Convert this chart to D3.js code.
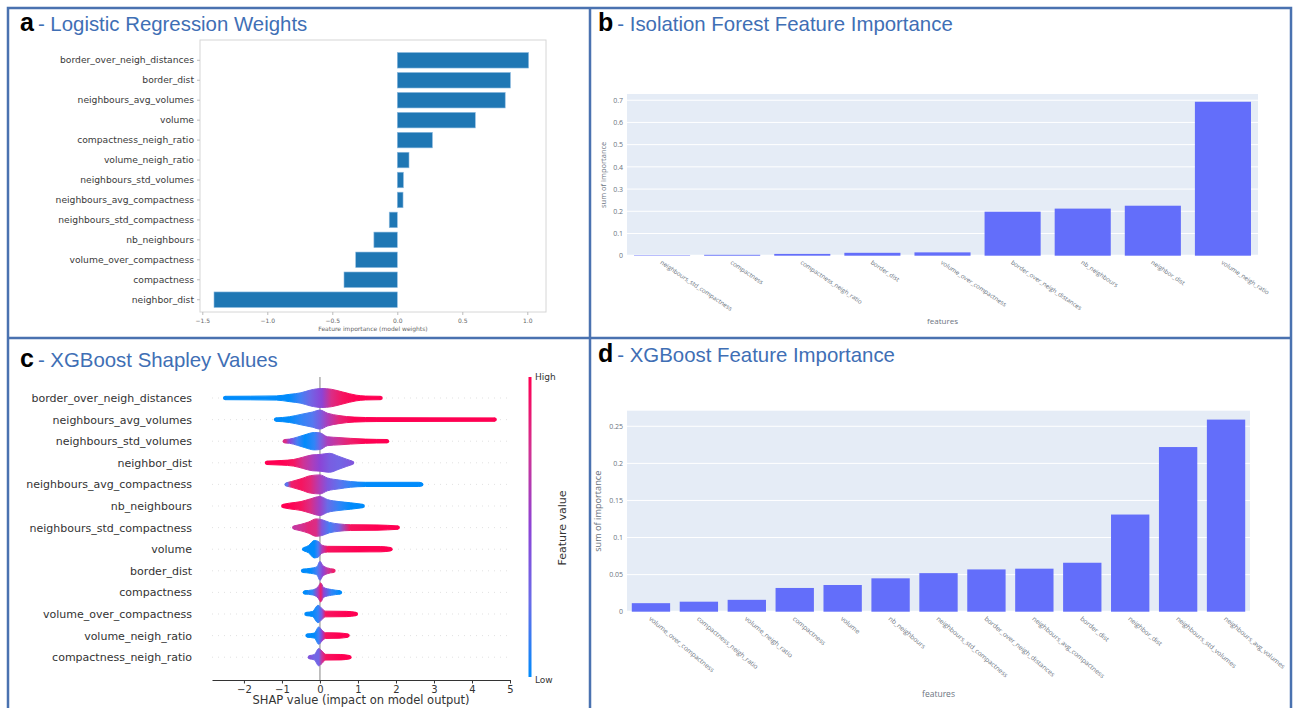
<!DOCTYPE html>
<html>
<head>
<meta charset="utf-8">
<script src="https://cdn.jsdelivr.net/npm/d3@7"></script>
<style>
  body { margin: 0; background: #fff; }
  svg { display: block; }
</style>
</head>
<body>
<div id="chart"></div>
<script>
// ---- data ----
const LR_FEATURES = ['border_over_neigh_distances', 'border_dist', 'neighbours_avg_volumes', 'volume',
  'compactness_neigh_ratio', 'volume_neigh_ratio', 'neighbours_std_volumes', 'neighbours_avg_compactness',
  'neighbours_std_compactness', 'nb_neighbours', 'volume_over_compactness', 'compactness', 'neighbor_dist'];
const LR_WEIGHTS = [1.01, 0.87, 0.83, 0.60, 0.27, 0.09, 0.047, 0.044, -0.062, -0.18, -0.32, -0.41, -1.41];
const LR_TICKS = [-1.5, -1.0, -0.5, 0.0, 0.5, 1.0];

const IF_FEATURES = ['neighbours_std_compactness', 'compactness', 'compactness_neigh_ratio', 'border_dist',
  'volume_over_compactness', 'border_over_neigh_distances', 'nb_neighbours', 'neighbor_dist', 'volume_neigh_ratio'];
const IF_IMPORTANCE = [0.002, 0.004, 0.008, 0.013, 0.015, 0.198, 0.212, 0.225, 0.693];
const IF_TICKS = [0, 0.1, 0.2, 0.3, 0.4, 0.5, 0.6, 0.7];

const XGB_FEATURES = ['volume_over_compactness', 'compactness_neigh_ratio', 'volume_neigh_ratio', 'compactness',
  'volume', 'nb_neighbours', 'neighbours_std_compactness', 'border_over_neigh_distances',
  'neighbours_avg_compactness', 'border_dist', 'neighbor_dist', 'neighbours_std_volumes', 'neighbours_avg_volumes'];
const XGB_IMPORTANCE = [0.0115, 0.0135, 0.016, 0.032, 0.036, 0.045, 0.052, 0.057, 0.058, 0.066, 0.131, 0.222, 0.259];
const XGB_TICKS = [0, 0.05, 0.1, 0.15, 0.2, 0.25];

const SHAP_FEATURES = ['border_over_neigh_distances', 'neighbours_avg_volumes', 'neighbours_std_volumes',
  'neighbor_dist', 'neighbours_avg_compactness', 'nb_neighbours', 'neighbours_std_compactness', 'volume',
  'border_dist', 'compactness', 'volume_over_compactness', 'volume_neigh_ratio', 'compactness_neigh_ratio'];
// each profile point: [shap value, relative point density, feature value (0 low .. 1 high)]
const SHAP_PROFILES = [
  [[-2.5, 0, 0], [-1.15, 0.05, 0], [-0.8, 0.25, 0], [-0.5, 0.45, 0.1], [-0.25, 0.8, 0.3], [0.05, 1, 0.5],
   [0.3, 0.9, 0.8], [0.6, 0.55, 0.95], [0.95, 0.15, 1], [1.2, 0.03, 1], [1.6, 0, 1]],
  [[-1.16, 0, 0], [-0.8, 0.15, 0], [-0.5, 0.45, 0.05], [-0.2, 0.75, 0.15], [0, 1, 0.35], [0.2, 0.6, 0.6],
   [0.5, 0.3, 0.85], [0.9, 0.1, 1], [1.5, 0.03, 1], [4.6, 0, 1]],
  [[-0.93, 0, 0.8], [-0.8, 0.05, 0.5], [-0.6, 0.3, 0.1], [-0.4, 0.6, 0], [-0.15, 0.9, 0.05], [0, 0.85, 0.3],
   [0.2, 0.35, 0.6], [0.5, 0.25, 0.75], [0.8, 0.15, 0.9], [1.2, 0.05, 1], [1.77, 0, 1]],
  [[-1.4, 0, 1], [-1.0, 0.08, 1], [-0.7, 0.2, 0.95], [-0.45, 0.5, 0.75], [-0.2, 0.8, 0.6], [0, 0.85, 0.5],
   [0.25, 1, 0.35], [0.5, 0.6, 0.3], [0.7, 0.25, 0.35], [0.85, 0, 0.4]],
  [[-0.88, 0, 0.2], [-0.75, 0.15, 0.9], [-0.5, 0.5, 0.95], [-0.25, 0.9, 0.85], [0, 1, 0.6], [0.2, 0.6, 0.4],
   [0.5, 0.35, 0.2], [0.8, 0.15, 0.05], [1.2, 0.05, 0], [2.0, 0.05, 0], [2.6, 0.05, 0], [2.67, 0, 0]],
  [[-0.97, 0, 1], [-0.8, 0.15, 1], [-0.5, 0.35, 0.95], [-0.25, 0.7, 0.8], [0, 1, 0.55], [0.2, 0.6, 0.25],
   [0.5, 0.35, 0.05], [0.8, 0.2, 0], [1.13, 0, 0]],
  [[-0.68, 0, 0.7], [-0.5, 0.2, 0.75], [-0.3, 0.5, 0.85], [-0.1, 0.9, 0.8], [0.05, 0.8, 0.4], [0.25, 0.45, 0.1],
   [0.5, 0.25, 0.3], [0.8, 0.15, 0.95], [1.5, 0.12, 1], [2.05, 0, 1]],
  [[-0.42, 0, 0], [-0.3, 0.25, 0], [-0.15, 0.9, 0], [-0.05, 0.8, 0.1], [0.05, 0.3, 0.6], [0.2, 0.15, 0.95],
   [1.0, 0.13, 1], [1.6, 0.12, 1], [1.86, 0, 1]],
  [[-0.45, 0, 0], [-0.25, 0.1, 0], [-0.08, 0.3, 0.1], [0, 1, 0.3], [0.07, 0.5, 0.5], [0.2, 0.15, 0.7], [0.36, 0, 0.9]],
  [[-0.4, 0, 0], [-0.2, 0.1, 0.05], [-0.05, 0.5, 0.6], [0.02, 1, 0.9], [0.1, 0.4, 0.5], [0.3, 0.15, 0.05], [0.53, 0, 0]],
  [[-0.36, 0, 0], [-0.2, 0.1, 0], [-0.05, 0.9, 0.05], [0.05, 0.5, 0.4], [0.15, 0.15, 0.95], [0.7, 0.12, 1], [0.95, 0, 1]],
  [[-0.33, 0, 0], [-0.15, 0.1, 0], [-0.03, 0.9, 0.1], [0.05, 0.5, 0.5], [0.15, 0.15, 0.95], [0.5, 0.12, 1], [0.73, 0, 1]],
  [[-0.27, 0, 0.4], [-0.15, 0.12, 0.3], [-0.03, 0.9, 0.3], [0.05, 0.6, 0.7], [0.15, 0.15, 0.95], [0.55, 0.13, 1], [0.78, 0, 1]]
];
const SHAP_TICKS = [-2, -1, 0, 1, 2, 3, 4, 5];

// ---- styling ----
const W = 1295, H = 708;
const BORDER = '#4a72b0';
const TITLE_BLUE = '#3f6fb5';
const MPL_FONT = '"DejaVu Sans", sans-serif';
const PLOTLY_FONT = '"Open Sans", "Noto Sans", sans-serif';
const minus = v => String(v).replace('-', '\u2212');

const svg = d3.select('#chart').append('svg').attr('width', W).attr('height', H);
svg.append('rect').attr('width', W).attr('height', H).attr('fill', '#fff');

// panel frames
const frame = svg.append('g').attr('fill', 'none').attr('stroke', BORDER).attr('stroke-width', 2.5);
frame.append('rect').attr('x', 8).attr('y', 8).attr('width', 1283).attr('height', 712);
frame.append('line').attr('x1', 590).attr('x2', 590).attr('y1', 8).attr('y2', 708);
frame.append('line').attr('x1', 8).attr('x2', 1291).attr('y1', 338).attr('y2', 338);

function panelTitle(x, y, letter, text) {
  const t = svg.append('text').attr('x', x).attr('y', y).attr('font-family', '"Liberation Sans", Arial, sans-serif');
  t.append('tspan').attr('font-size', 25).attr('font-weight', 'bold').attr('fill', '#000').text(letter);
  t.append('tspan').attr('dx', 4).attr('font-size', 20.4).attr('fill', TITLE_BLUE).text('- ' + text);
}
panelTitle(20, 31, 'a', 'Logistic Regression Weights');
panelTitle(598, 31, 'b', 'Isolation Forest Feature Importance');
panelTitle(20, 367, 'c', 'XGBoost Shapley Values');
panelTitle(598, 362, 'd', 'XGBoost Feature Importance');

// ---- a: logistic regression weights (matplotlib barh) ----
(function () {
  const box = { x0: 200, x1: 546, y0: 40, y1: 312 };
  const g = svg.append('g');
  const x = d3.scaleLinear().domain([-1.5, 1.0]).range([202.3, 527.3]);
  const y = d3.scaleBand().domain(LR_FEATURES).range([50.3, 309.7]).paddingInner(0.22).paddingOuter(0.11);

  g.append('rect').attr('x', box.x0).attr('y', box.y0)
    .attr('width', box.x1 - box.x0).attr('height', box.y1 - box.y0)
    .attr('fill', 'none').attr('stroke', '#d6d6d6').attr('stroke-width', 1);

  g.selectAll('rect.bar').data(LR_FEATURES).join('rect')
    .attr('class', 'bar')
    .attr('x', (d, i) => Math.min(x(0), x(LR_WEIGHTS[i])))
    .attr('width', (d, i) => Math.abs(x(LR_WEIGHTS[i]) - x(0)))
    .attr('y', d => y(d))
    .attr('height', y.bandwidth())
    .attr('fill', '#1f77b4')
    .attr('stroke', '#8fbbe0').attr('stroke-width', 0.6);

  const yAx = g.append('g').attr('transform', `translate(${box.x0},0)`)
    .call(d3.axisLeft(y).tickSize(3).tickPadding(3));
  yAx.select('.domain').remove();
  yAx.selectAll('line').attr('stroke', '#bbb');
  yAx.selectAll('text').attr('font-family', MPL_FONT).attr('font-size', 9.2).attr('fill', '#3a3a3a');

  const xAx = g.append('g').attr('transform', `translate(0,${box.y1})`)
    .call(d3.axisBottom(x).tickValues(LR_TICKS).tickFormat(d => minus(d3.format('.1f')(d))).tickSize(3).tickPadding(4));
  xAx.select('.domain').remove();
  xAx.selectAll('line').attr('stroke', '#bbb');
  xAx.selectAll('text').attr('font-family', MPL_FONT).attr('font-size', 6).attr('fill', '#666');

  g.append('text').attr('x', (box.x0 + box.x1) / 2).attr('y', 331).attr('text-anchor', 'middle')
    .attr('font-family', MPL_FONT).attr('font-size', 6).attr('fill', '#666')
    .text('Feature importance (model weights)');
})();

// ---- b / d: plotly style bar charts ----
function plotlyBars(cats, vals, ticks, box, yMax, opt) {
  const g = svg.append('g');
  const x = d3.scaleBand().domain(cats).range([box.x0, box.x1]).paddingInner(0.2).paddingOuter(0.1);
  const y = d3.scaleLinear().domain([0, yMax]).range([box.y1, box.y0]);

  g.append('rect').attr('x', box.x0).attr('y', box.y0)
    .attr('width', box.x1 - box.x0).attr('height', box.y1 - box.y0).attr('fill', '#e5ecf6');

  g.append('g').selectAll('line').data(ticks).join('line')
    .attr('x1', box.x0).attr('x2', box.x1)
    .attr('y1', d => y(d)).attr('y2', d => y(d))
    .attr('stroke', '#fff').attr('stroke-width', d => d === 0 ? 2 : 1);

  g.selectAll('rect.bar').data(cats).join('rect')
    .attr('class', 'bar')
    .attr('x', d => x(d))
    .attr('width', x.bandwidth())
    .attr('y', (d, i) => y(vals[i]))
    .attr('height', (d, i) => y(0) - y(vals[i]))
    .attr('fill', '#636efa');

  const yAx = g.append('g').attr('transform', `translate(${box.x0},0)`)
    .call(d3.axisLeft(y).tickValues(ticks).tickFormat(d => d3.format('~g')(d)).tickSize(0).tickPadding(4));
  yAx.select('.domain').remove();
  yAx.selectAll('text').attr('font-family', PLOTLY_FONT).attr('font-size', 7).attr('fill', '#6b7480');

  g.append('g').selectAll('text').data(cats).join('text')
    .attr('transform', d => `translate(${x(d) + x.bandwidth() / 2 - 1},${box.y1 + 6}) rotate(${opt.angle})`)
    .attr('dy', '0.35em')
    .attr('font-family', PLOTLY_FONT).attr('font-size', opt.tickFont).attr('fill', '#6b7480')
    .text(d => d);

  g.append('text').attr('x', (box.x0 + box.x1) / 2).attr('y', opt.titleY).attr('text-anchor', 'middle')
    .attr('font-family', PLOTLY_FONT).attr('font-size', opt.titleFont).attr('fill', '#6b7480').text('features');

  g.append('text')
    .attr('transform', `translate(${opt.yLabelX},${(box.y0 + box.y1) / 2}) rotate(-90)`)
    .attr('text-anchor', 'middle')
    .attr('font-family', PLOTLY_FONT).attr('font-size', opt.yLabelFont).attr('fill', '#6b7480').text('sum of importance');
}
plotlyBars(IF_FEATURES, IF_IMPORTANCE, IF_TICKS, { x0: 627, x1: 1258, y0: 94, y1: 255.7 }, 0.728,
  { angle: 34, tickFont: 6.2, titleY: 324, titleFont: 8, yLabelX: 606, yLabelFont: 7.5 });
plotlyBars(XGB_FEATURES, XGB_IMPORTANCE, XGB_TICKS, { x0: 627, x1: 1250, y0: 410.7, y1: 611.7 }, 0.271,
  { angle: 40, tickFont: 6.6, titleY: 697, titleFont: 8.5, yLabelX: 601, yLabelFont: 9.2 });

// ---- c: SHAP summary (beeswarm outline) ----
(function () {
  const g = svg.append('g');
  const x = d3.scaleLinear().domain([-2.84, 5]).range([212, 510]);
  const y = d3.scalePoint().domain(SHAP_FEATURES).range([398, 657.2]);
  const h = d3.scaleLinear().domain([0, 1]).range([1.7, 9.5]);
  const col = d3.scaleLinear().domain([0, 0.5, 1]).range(['#008bfb', '#8c44d6', '#ff0052'])
    .interpolate(d3.interpolateLab);
  const defs = svg.append('defs');

  // dotted row guides
  g.append('g').selectAll('line').data(SHAP_FEATURES).join('line')
    .attr('x1', 212).attr('x2', 510).attr('y1', d => y(d)).attr('y2', d => y(d))
    .attr('stroke', '#cccccc').attr('stroke-width', 0.6).attr('stroke-dasharray', '1 5');

  // zero line
  g.append('line').attr('x1', x(0)).attr('x2', x(0)).attr('y1', 377).attr('y2', 680)
    .attr('stroke', '#999').attr('stroke-width', 1.2);

  SHAP_FEATURES.forEach((f, i) => {
    const prof = SHAP_PROFILES[i];
    const cy = y(f);
    const xa = x(prof[0][0]), xb = x(prof[prof.length - 1][0]);
    const id = 'shapgrad' + i;
    const grad = defs.append('linearGradient').attr('id', id)
      .attr('gradientUnits', 'userSpaceOnUse').attr('x1', xa).attr('x2', xb).attr('y1', 0).attr('y2', 0);
    prof.forEach(p => grad.append('stop')
      .attr('offset', (x(p[0]) - xa) / (xb - xa)).attr('stop-color', col(p[2])));

    const area = d3.area().curve(d3.curveMonotoneX)
      .x(p => x(p[0])).y0(p => cy - h(p[1])).y1(p => cy + h(p[1]));
    g.append('path').attr('d', area(prof))
      .attr('fill', `url(#${id})`).attr('stroke', `url(#${id})`).attr('stroke-width', 1)
      .attr('stroke-linejoin', 'round');
    [prof[0], prof[prof.length - 1]].forEach(p => g.append('circle')
      .attr('cx', x(p[0])).attr('cy', cy).attr('r', 2).attr('fill', col(p[2])));
  });

  const yAx = g.append('g').attr('transform', 'translate(196,0)')
    .call(d3.axisLeft(y).tickSize(0).tickPadding(4));
  yAx.select('.domain').remove();
  yAx.selectAll('text').attr('font-family', MPL_FONT).attr('font-size', 11).attr('fill', '#333');

  const xAx = g.append('g').attr('transform', 'translate(0,680)')
    .call(d3.axisBottom(x).tickValues(SHAP_TICKS).tickFormat(d => minus(d)).tickSize(3.5).tickPadding(2).tickSizeOuter(0));
  xAx.select('.domain').attr('stroke', '#333');
  xAx.selectAll('line').attr('stroke', '#333');
  xAx.selectAll('text').attr('font-family', MPL_FONT).attr('font-size', 10).attr('fill', '#333');

  g.append('text').attr('x', 361).attr('y', 704).attr('text-anchor', 'middle')
    .attr('font-family', MPL_FONT).attr('font-size', 11.5).attr('fill', '#333')
    .text('SHAP value (impact on model output)');

  // colour bar
  const cb = defs.append('linearGradient').attr('id', 'shapcbar')
    .attr('x1', 0).attr('x2', 0).attr('y1', 1).attr('y2', 0);
  [0, 0.25, 0.5, 0.75, 1].forEach(v => cb.append('stop').attr('offset', v).attr('stop-color', col(v)));
  g.append('rect').attr('x', 528.5).attr('y', 377).attr('width', 3).attr('height', 300).attr('fill', 'url(#shapcbar)');
  g.append('text').attr('x', 535).attr('y', 377).attr('dy', '0.35em')
    .attr('font-family', MPL_FONT).attr('font-size', 9).attr('fill', '#333').text('High');
  g.append('text').attr('x', 535).attr('y', 680).attr('dy', '0.35em')
    .attr('font-family', MPL_FONT).attr('font-size', 9).attr('fill', '#333').text('Low');
  g.append('text').attr('transform', 'translate(562,528) rotate(-90)').attr('text-anchor', 'middle')
    .attr('dy', '0.35em')
    .attr('font-family', MPL_FONT).attr('font-size', 11).attr('fill', '#333').text('Feature value');
})();
</script>
</body>
</html>
